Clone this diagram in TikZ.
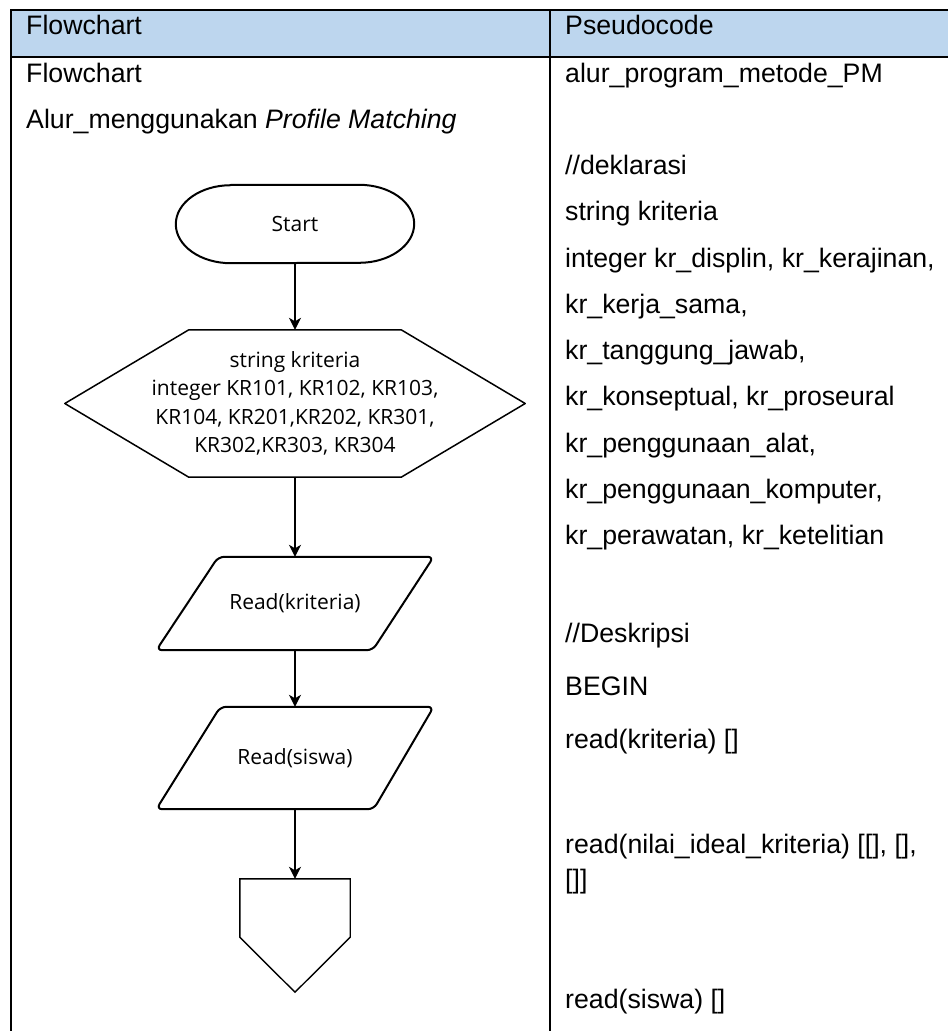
\documentclass[tikz,border=0pt]{standalone}
\usepackage{fontspec}
\setmainfont{Liberation Sans}
\newfontfamily\fcfont{Open Sans}
\usetikzlibrary{arrows.meta}
\definecolor{hdrblue}{RGB}{189,214,238}
\begin{document}
\begin{tikzpicture}[x=1pt,y=-1pt,
  tbl/.style={line width=1.3pt, black},
  celltext/.style={anchor=base west, inner sep=0pt, font=\fontsize{26.7}{32}\selectfont},
  fcshape/.style={inner sep=0pt, font=\fcfont\fontsize{21}{28.4}\selectfont, align=center},
  outline/.style={line width=2pt, line join=round},
  flow/.style={line width=1.4pt, -{Stealth[length=12pt,width=12pt,inset=3.5pt]}}
]
\useasboundingbox (0,0) rectangle (948,1031);
% table
\fill[hdrblue] (11,10) rectangle (948,57);
\draw[tbl] (11,10) -- (948,10);
\draw[tbl] (11,57) -- (948,57);
\draw[tbl] (11,9.35) -- (11,1031);
\draw[tbl] (550,9.35) -- (550,1031);
% header and left column text
\node[celltext] (hL) at (26,34.5) {Flowchart};
\node[celltext] (hR) at (565,34.5) {Pseudocode};
\node[celltext] (l1) at (26,82) {Flowchart};
\node[celltext] (l2) at (26,128.5) {Alur\_menggunakan \textit{Profile Matching}};
% pseudocode
\node[celltext] (p1) at (565,82) {alur\_program\_metode\_PM};
\node[celltext] (p2) at (565,174) {//deklarasi};
\node[celltext] (p3) at (565,220) {string kriteria};
\node[celltext] (p4) at (565,267) {integer kr\_displin, kr\_kerajinan,};
\node[celltext] (p5) at (565,313) {kr\_kerja\_sama,};
\node[celltext] (p6) at (565,359) {kr\_tanggung\_jawab,};
\node[celltext] (p7) at (565,405) {kr\_konseptual, kr\_proseural};
\node[celltext] (p8) at (565,452) {kr\_penggunaan\_alat,};
\node[celltext] (p9) at (565,498) {kr\_penggunaan\_komputer,};
\node[celltext] (p10) at (565,544) {kr\_perawatan, kr\_ketelitian};
\node[celltext] (p11) at (565,642) {//Deskripsi};
\node[celltext] (p12) at (565,695) {BEGIN};
\node[celltext] (p13) at (565,748) {read(kriteria) []};
\node[celltext] (p14) at (565,853) {read(nilai\_ideal\_kriteria) [[], [],};
\node[celltext] (p15) at (565,888) {[]]};
\node[celltext] (p16) at (565,1008) {read(siswa) []};
% flowchart
\node[fcshape, minimum width=238pt, minimum height=78pt] (start) at (295,224) {Start};
\draw[outline] ([xshift=55pt]start.north west) -- ([xshift=-55pt]start.north east)
  arc[start angle=90,end angle=-90,x radius=55pt,y radius=39pt]
  -- ([xshift=55pt]start.south west)
  arc[start angle=270,end angle=90,x radius=55pt,y radius=39pt] -- cycle;
\node[fcshape, minimum width=460pt, minimum height=147pt] (decl) at (295,403.5)
  {string kriteria\\integer KR101, KR102, KR103,\\KR104, KR201,KR202, KR301,\\KR302,KR303, KR304};
\draw[line width=1.5pt, line join=round] (decl.west) -- ([xshift=124pt]decl.north west)
  -- ([xshift=-124pt]decl.north east) -- (decl.east) -- ([xshift=-124pt]decl.south east)
  -- ([xshift=124pt]decl.south west) -- cycle;
\node[fcshape, minimum width=277pt, minimum height=93pt] (rk) at (295,603.5) {Read(kriteria)};
\draw[outline, rounded corners=6pt] ([xshift=62pt]rk.north west) -- (rk.north east)
  -- ([xshift=-61pt]rk.south east) -- (rk.south west) -- cycle;
\node[fcshape, minimum width=277pt, minimum height=102pt] (rs) at (295,758) {Read(siswa)};
\draw[outline, rounded corners=6pt] ([xshift=64pt]rs.north west) -- (rs.north east)
  -- ([xshift=-60pt]rs.south east) -- (rs.south west) -- cycle;
\node[inner sep=0pt, minimum width=110pt, minimum height=113pt] (conn) at (295,935.5) {};
\draw[line width=1.4pt, line join=miter] (conn.north west) -- (conn.north east)
  -- ([yshift=55pt]conn.south east) -- (conn.south) -- ([yshift=55pt]conn.south west) -- cycle;
% connectors
\draw[flow] (start.south) -- (decl.north);
\draw[flow] (decl.south) -- (rk.north);
\draw[flow] (rk.south) -- (rs.north);
\draw[flow] (rs.south) -- (conn.north);
\end{tikzpicture}
\end{document}
